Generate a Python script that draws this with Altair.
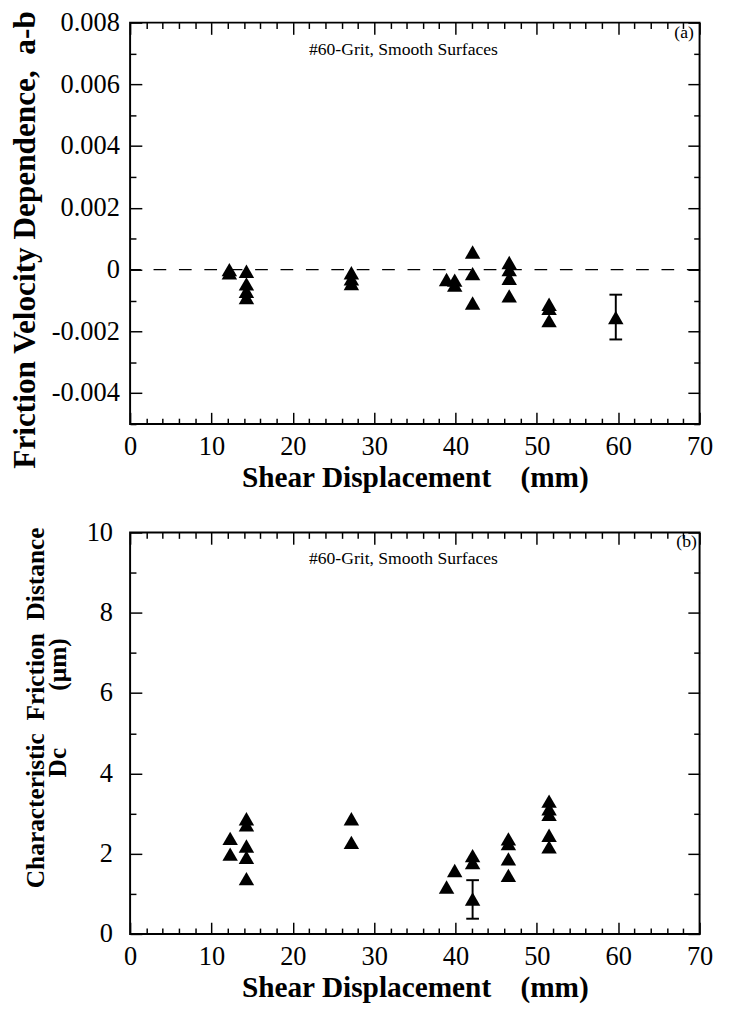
import altair as alt
import pandas as pd

FONT = "Liberation Serif"

# ---------------- data: panel (a) ----------------
A_X = [12.2, 12.2, 14.3, 14.3, 14.3, 14.3, 27.2, 27.2, 27.2, 38.9, 39.9, 39.9,
       42.1, 42.1, 42.1, 46.6, 46.6, 46.6, 46.6, 51.5, 51.5, 51.5, 59.7]
A_Y = [0.0000, -0.0001, -0.00005, -0.00046, -0.0007, -0.0009, -0.0001, -0.0003, -0.00045,
       -0.00032, -0.00034, -0.0005, 0.00057, -0.00013, -0.00108, 0.00023, 0.0, -0.00028,
       -0.00085, -0.00112, -0.00125, -0.00165, -0.00155]
A_ERR_X = [59.7]
A_ERR_LO = [-0.00226]
A_ERR_HI = [-0.00081]
A_ZERO = [0.0]
A_ANN_X = [33.6, 68.1]
A_ANN_Y = [0.00711, 0.00765]
A_ANN_T = ["#60-Grit, Smooth Surfaces", "(a)"]

# ---------------- data: panel (b) ----------------
B_X = [12.3, 12.3, 14.3, 14.3, 14.3, 14.3, 14.3, 27.2, 27.2, 38.9, 39.9, 42.1, 42.1, 42.1,
       46.5, 46.5, 46.5, 46.5, 51.5, 51.5, 51.5, 51.5, 51.5]
B_Y = [2.38, 1.99, 2.87, 2.72, 2.19, 1.91, 1.38, 2.87, 2.28, 1.17, 1.58, 1.95, 1.78, 0.87,
       2.37, 2.25, 1.87, 1.46, 3.31, 3.12, 2.98, 2.46, 2.17]
B_ERR_X = [42.1]
B_ERR_LO = [0.38]
B_ERR_HI = [1.34]
B_ANN_X = [33.6, 68.4]
B_ANN_Y = [9.34, 9.76]
B_ANN_T = ["#60-Grit, Smooth Surfaces", "(b)"]

# ---------------- axes ----------------
X_DOMAIN = [0, 70]
X_LABELS = [0, 10, 20, 30, 40, 50, 60, 70]
X_MINOR = [v for v in range(0, 71, 2) if v % 10 != 0]
A_Y_DOMAIN = [-0.005, 0.008]
A_Y_LABELS = [-0.004, -0.002, 0, 0.002, 0.004, 0.006, 0.008]
A_Y_MINOR = [-0.005, -0.003, -0.001, 0.001, 0.003, 0.005, 0.007]
B_Y_DOMAIN = [0, 10]
B_Y_LABELS = [0, 2, 4, 6, 8, 10]
B_Y_MINOR = [1, 3, 5, 7, 9]

X_TITLE = "Shear Displacement\u00a0\u00a0\u00a0\u00a0(mm)"
A_Y_TITLE = "Friction Velocity Dependence,\u00a0\u00a0a-b"
B_Y_TITLE = ["Characteristic\u00a0 Friction\u00a0 Distance",
             "Dc\u00a0\u00a0\u00a0\u00a0\u00a0\u00a0\u00a0\u00a0\u00a0(\u03bcm)"]

W, H = 583, 411
MAJOR, MINOR = 12, 6


def tick_layer(df, xs, ys, xvals, yvals, size, inside_from):
    # inside ticks: an axis on the opposite edge, shifted onto the frame
    if inside_from == "low":
        xo, yo = "top", "right"      # sits on bottom / left edge, ticks point inward
    else:
        xo, yo = "bottom", "left"    # sits on top / right edge, ticks point inward
    return alt.Chart(df).mark_point(opacity=0).encode(
        x=alt.X("x:Q", scale=xs, axis=alt.Axis(orient=xo, offset=-H, values=xvals,
                                               labels=False, domain=False, grid=False,
                                               ticks=True, tickSize=size, title=None)),
        y=alt.Y("y:Q", scale=ys, axis=alt.Axis(orient=yo, offset=-W, values=yvals,
                                               labels=False, domain=False, grid=False,
                                               ticks=True, tickSize=size, title=None)),
    )


def panel(px, py, ex, elo, ehi, ydom, ylabels, yminor, ylabel_expr,
          ytitle, ytitle_size, ytitle_pad, ytitle_y, ylabel_pad, ann_x, ann_y, ann_t,
          zero=None):
    pts = pd.DataFrame({"x": px, "y": py})
    err = pd.DataFrame({"x": ex, "lo": elo, "hi": ehi})
    caps = pd.DataFrame({"x": ex + ex, "y": elo + ehi})
    ann = pd.DataFrame({"x": ann_x, "y": ann_y, "t": ann_t})
    xs = alt.Scale(domain=X_DOMAIN, nice=False, zero=False)
    ys = alt.Scale(domain=ydom, nice=False, zero=False)

    yaxis_kw = dict(orient="left", values=ylabels, ticks=False, domain=False, grid=False,
                    labelPadding=ylabel_pad, title=ytitle, titleFontSize=ytitle_size,
                    titlePadding=ytitle_pad, titleLineHeight=23, titleY=ytitle_y,
                    labelOverlap=False)
    if ylabel_expr:
        yaxis_kw["labelExpr"] = ylabel_expr

    points = alt.Chart(pts).mark_point(shape="triangle-up", filled=True, color="black",
                                       size=250, opacity=1).encode(
        x=alt.X("x:Q", scale=xs, axis=alt.Axis(orient="bottom", values=X_LABELS, ticks=False,
                                               domain=False, grid=False, labelPadding=10,
                                               labelFlush=False, labelOverlap=False,
                                               title=X_TITLE, titleFontSize=30, titlePadding=4)),
        y=alt.Y("y:Q", scale=ys, axis=alt.Axis(**yaxis_kw)),
    )
    t1 = tick_layer(pts, xs, ys, X_LABELS, ylabels, MAJOR, "low")
    t2 = tick_layer(pts, xs, ys, X_MINOR, yminor, MINOR, "low")
    t3 = tick_layer(pts, xs, ys, X_LABELS, ylabels, MAJOR, "high")
    t4 = tick_layer(pts, xs, ys, X_MINOR, yminor, MINOR, "high")

    rule = alt.Chart(err).mark_rule(color="black", strokeWidth=2).encode(
        x=alt.X("x:Q", scale=xs, axis=None),
        y=alt.Y("lo:Q", scale=ys, axis=None),
        y2="hi:Q",
    )
    cap = alt.Chart(caps).mark_tick(orient="horizontal", color="black", size=13,
                                    thickness=2, opacity=1).encode(
        x=alt.X("x:Q", scale=xs, axis=None),
        y=alt.Y("y:Q", scale=ys, axis=None),
    )
    text = alt.Chart(ann).mark_text(font=FONT, fontSize=18, color="black", align="center",
                                    baseline="middle").encode(
        x=alt.X("x:Q", scale=xs, axis=None),
        y=alt.Y("y:Q", scale=ys, axis=None),
        text="t:N",
    )
    layers = [t1, t2, t3, t4]
    if zero is not None:
        zdf = pd.DataFrame({"y": zero})
        layers.append(alt.Chart(zdf).mark_rule(color="black", strokeWidth=1.2,
                                               strokeDash=[13, 13]).encode(
            y=alt.Y("y:Q", scale=ys, axis=None)))
    layers += [rule, cap, text, points]
    return alt.layer(*layers).resolve_axis(x="independent", y="independent").properties(
        width=W, height=H)


pa = panel(A_X, A_Y, A_ERR_X, A_ERR_LO, A_ERR_HI, A_Y_DOMAIN, A_Y_LABELS, A_Y_MINOR,
           "datum.value === 0 ? '0' : replace(format(datum.value, '.3f'), '\u2212', '-')",
           A_Y_TITLE, 32, 10, 222, 11, A_ANN_X, A_ANN_Y, A_ANN_T, zero=A_ZERO)
pb = panel(B_X, B_Y, B_ERR_X, B_ERR_LO, B_ERR_HI, B_Y_DOMAIN, B_Y_LABELS, B_Y_MINOR,
           None, B_Y_TITLE, 26, 16, 179, 18, B_ANN_X, B_ANN_Y, B_ANN_T)

chart = alt.vconcat(pa, pb, spacing=25).properties(
    padding={"left": 0, "top": -12, "right": 10, "bottom": 0},
    background="white",
).configure_view(
    stroke="black", strokeWidth=2
).configure_axis(
    labelFont=FONT, labelFontSize=27, labelColor="black",
    titleFont=FONT, titleFontWeight="bold", titleColor="black",
    tickColor="black", tickWidth=1.5,
)

chart.save("out.html", embed_options={"renderer": "svg", "actions": False})
